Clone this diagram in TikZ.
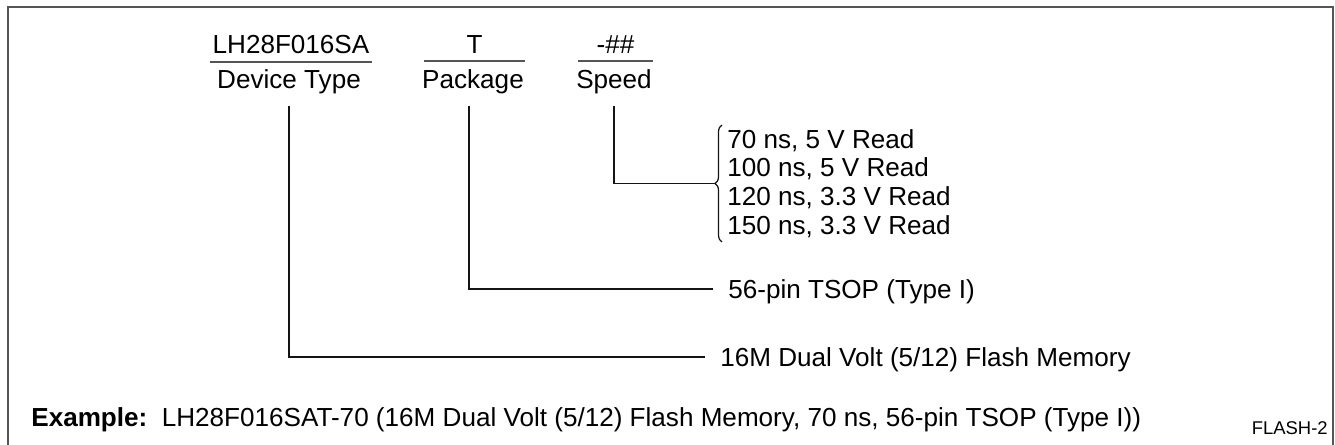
\documentclass[tikz,border=0pt]{standalone}
\usepackage{fontspec}
\setmainfont{Liberation Sans}
\usetikzlibrary{positioning, decorations.pathreplacing}
\definecolor{FrameColor}{RGB}{85,85,85}
\definecolor{LineColor}{RGB}{20,20,20}
\newcommand{\bodysize}{\fontsize{14.85}{16.3}\selectfont}
\tikzstyle{frame} = [line width=1.1pt, FrameColor]
\tikzstyle{link} = [line width=0.7pt, LineColor]
\tikzstyle{partno} = [font=\bodysize, anchor=base, inner xsep=0pt, inner ysep=0.14cm]
\tikzstyle{field} = [font=\bodysize, anchor=base, inner ysep=0.23cm]
\tikzstyle{choice} = [font=\bodysize, anchor=west, inner xsep=0.3cm, text height=10.7pt, text depth=0pt]

\begin{document}
\begin{tikzpicture}[x=0.02cm, y=-0.02cm]
            \useasboundingbox (0,0) rectangle (1335,445);
            % Frame
            \draw[frame] (8,445) -- (8,7) -- (1333,7) -- (1333,445);
            
            % Part number fields
            \node[partno, minimum width=3.24cm] (devno) at (291,54) {LH28F016SA};
            \node[partno, minimum width=2.02cm] (pkgno) at (474.5,54) {T};
            \node[partno, minimum width=1.5cm] (spdno) at (615.5,54) {-\#\#};
            \foreach \n in {devno,pkgno,spdno}
                \draw[frame] (\n.south west) -- (\n.south east);
            
            \node[field] (devtype) at (289,89) {Device Type};
            \node[field] (pkg) at (473,89) {Package};
            \node[field] (speed) at (614,89) {Speed};
            
            % Options
            \node[font=\bodysize, anchor=west, align=left, inner xsep=0.1cm, inner ysep=0.08cm] (speeds) at (722,183.5)
                {70 ns, 5 V Read\\100 ns, 5 V Read\\120 ns, 3.3 V Read\\150 ns, 3.3 V Read};
            \node[choice] (pkgtext) at (713,289) {56-pin TSOP (Type I)};
            \node[choice] (devtext) at (705,357) {16M Dual Volt (5/12) Flash Memory};
            
            % Leader lines
            \coordinate[left=0.14cm of speeds.west] (speedtip);
            \draw[link] (speed.south) |- (speedtip);
            \draw[link, decorate, decoration={brace, amplitude=0.14cm}] (speeds.south west) -- (speeds.north west);
            \draw[link] ([xshift=-0.08cm]pkg.south) |- (pkgtext.west);
            \draw[link] (devtype.south) |- (devtext.west);
            
            % Example
            \node[font=\bodysize, anchor=base west, inner sep=0pt] (example) at (31,427)
                {\textbf{Example:}\ \ LH28F016SAT-70 (16M Dual Volt (5/12) Flash Memory, 70 ns, 56-pin TSOP (Type I))};
            \node[font=\fontsize{10.5}{12}\selectfont, anchor=base east, inner sep=0pt] (figid) at (1328,435) {FLASH-2};
        \end{tikzpicture}
\end{document}
